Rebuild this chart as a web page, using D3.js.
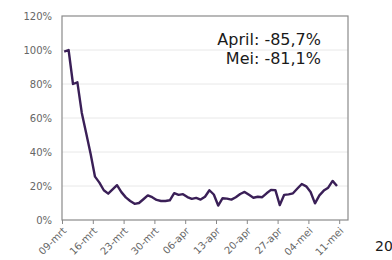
<!DOCTYPE html>
<html>
<head>
<meta charset="utf-8">
<script src="https://cdn.jsdelivr.net/npm/d3@7"></script>
<style>
  body { margin: 0; background: #fff; }
  text { font-family: "DejaVu Sans", Verdana, sans-serif; }
</style>
</head>
<body>
<div id="chart"></div>
<script>
// -------------------- DATA --------------------

// first day of the series, one value per day after that
var startDay = "2020-03-09";
var values = [
  99, 100, 80, 81, 63, 51, 39, 25.5, 22, 17.5,
  15.5, 18, 20.5, 16.4, 13.3, 11.2, 9.5, 10, 12.2, 14.5,
  13.4, 11.8, 11.2, 11.2, 11.6, 15.8, 14.8, 15.2, 13.5, 12.4,
  13, 12, 13.7, 17.5, 15, 8.5, 12.8, 12.6, 12, 13.4,
  15.3, 16.5, 14.8, 13.1, 13.7, 13.4, 15.7, 17.7, 17.6, 8.8,
  14.8, 15.1, 15.7, 18.5, 21.2, 19.8, 16.5, 9.8, 14.5, 17.3,
  19, 23, 20
];
var yTicks = [0, 20, 40, 60, 80, 100, 120];
var xTickDays = ["2020-03-09", "2020-03-16", "2020-03-23", "2020-03-30", "2020-04-06",
  "2020-04-13", "2020-04-20", "2020-04-27", "2020-05-04", "2020-05-11"];
var xDomain = ["2020-03-09", "2020-05-13"];
var notes = ["April: -85,7%", "Mei: -81,1%"];

var parseDay = d3.timeParse("%Y-%m-%d");
var monthNames = ["jan", "feb", "mrt", "apr", "mei", "jun", "jul", "aug", "sep", "okt", "nov", "dec"];
function fmtDay(d) {
  return d3.timeFormat("%d")(d) + "-" + monthNames[d.getMonth()];
}

var start = parseDay(startDay);
var data = values.map(function (v, i) {
  // points sit in the middle of their day
  return { date: d3.timeHour.offset(start, i * 24 + 12), value: v };
});

// -------------------- CHART --------------------

var width = 392;
var height = 260;
var plot = { left: 62, right: 348, top: 16, bottom: 220 };

var svg = d3.select("#chart")
  .append("svg")
  .attr("width", width)
  .attr("height", height);

var x = d3.scaleTime()
  .domain(xDomain.map(parseDay))
  .range([plot.left, plot.right]);

var y = d3.scaleLinear()
  .domain([0, 120])
  .range([plot.bottom, plot.top]);

// horizontal grid lines
svg.append("g")
  .selectAll("line")
  .data(yTicks.filter(function (d) { return d > 0 && d < 120; }))
  .enter()
  .append("line")
  .attr("x1", plot.left)
  .attr("x2", plot.right)
  .attr("y1", function (d) { return y(d); })
  .attr("y2", function (d) { return y(d); })
  .style("stroke", "#e8e8e8")
  .style("stroke-width", 1);

// y axis labels
var yAxis = d3.axisLeft(y)
  .tickValues(yTicks)
  .tickSize(0)
  .tickPadding(10)
  .tickFormat(function (d) { return d + "%"; });

var gy = svg.append("g")
  .attr("transform", "translate(" + plot.left + ",0)")
  .call(yAxis);
gy.select(".domain").remove();
gy.selectAll("text")
  .style("font-size", "10px")
  .style("fill", "#666");

// x axis with rotated date labels
var xAxis = d3.axisBottom(x)
  .tickValues(xTickDays.map(parseDay))
  .tickSizeInner(4)
  .tickSizeOuter(0)
  .tickFormat(fmtDay);

var gx = svg.append("g")
  .attr("transform", "translate(0," + plot.bottom + ")")
  .call(xAxis);
gx.select(".domain").remove();
gx.selectAll(".tick line").style("stroke", "#888");
gx.selectAll(".tick text")
  .attr("text-anchor", "end")
  .attr("x", 0)
  .attr("y", 0)
  .attr("dy", "0.35em")
  .attr("transform", "translate(2,9) rotate(-45)")
  .style("font-size", "10px")
  .style("fill", "#666");

// plot border
svg.append("rect")
  .attr("x", plot.left)
  .attr("y", plot.top)
  .attr("width", plot.right - plot.left)
  .attr("height", plot.bottom - plot.top)
  .style("fill", "none")
  .style("stroke", "#8a8a8a")
  .style("stroke-width", 1.2);

// the line
var line = d3.line()
  .x(function (d) { return x(d.date); })
  .y(function (d) { return y(d.value); });

svg.append("path")
  .datum(data)
  .attr("d", line)
  .style("fill", "none")
  .style("stroke", "#3a1f57")
  .style("stroke-width", 2.4)
  .style("stroke-linejoin", "round");

// notes top right
svg.append("g")
  .selectAll("text")
  .data(notes)
  .enter()
  .append("text")
  .attr("x", 321)
  .attr("y", function (d, i) { return 45 + i * 19; })
  .attr("text-anchor", "end")
  .style("font-size", "16px")
  .style("fill", "#1a1a1a")
  .text(function (d) { return d; });

// cut off text at the bottom right
svg.append("text")
  .attr("x", 375)
  .attr("y", 251)
  .style("font-size", "14px")
  .style("fill", "#1a1a1a")
  .text("20");
</script>
</body>
</html>
